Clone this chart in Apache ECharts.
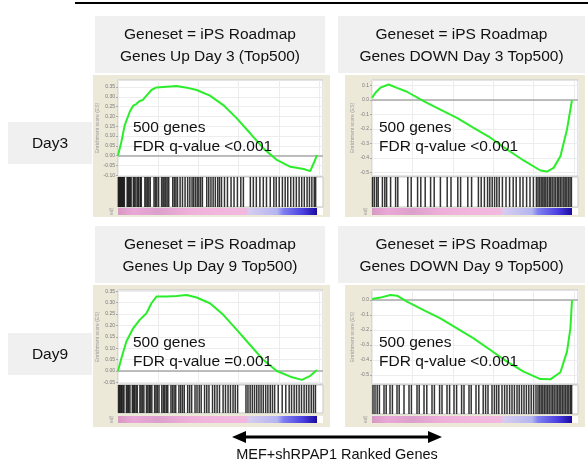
<!DOCTYPE html>
<html><head><meta charset="utf-8">
<script src="https://cdn.jsdelivr.net/npm/echarts@6/dist/echarts.min.js"></script>
<style>html,body{margin:0;padding:0;background:#fff}#c{width:588px;height:464px}</style>
</head><body><div id="c"></div>
<script>
// ---- data (x = position in ranked list, % ; y = enrichment score) ----
const up3Rank = [0,1.7,3.4,5.9,7.6,9.0,10.9,12.5,14.3,16.8,19.3,24.4,29.4,34.5,39.5,46.2,52.9,59.7,66.4,73.1,79.8,86.6,93.3,96.6,98.3,100];
const up3ES   = [0,0.071,0.156,0.224,0.255,0.262,0.279,0.284,0.306,0.335,0.348,0.352,0.355,0.347,0.335,0.306,0.258,0.19,0.114,0.037,-0.022,-0.057,-0.068,-0.079,-0.039,0.003];
const dn3Rank = [0,1.7,4.2,8.3,12.5,17.5,25.8,34.2,42.5,50.8,59.2,67.5,75.8,84.2,87.5,90.8,94.2,97.5,100];
const dn3ES   = [0.015,0.05,0.085,0.107,0.084,0.057,-0.008,-0.066,-0.123,-0.192,-0.26,-0.341,-0.417,-0.486,-0.493,-0.468,-0.388,-0.203,0.0];
const up9Rank = [0,1.7,4.2,7.6,10.9,14.3,16.8,19.3,24.4,29.4,34.5,39.5,46.2,52.9,59.7,66.4,73.1,79.8,86.6,92.4,96.6,100];
const up9ES   = [0,0.056,0.129,0.187,0.224,0.253,0.297,0.326,0.326,0.329,0.333,0.322,0.297,0.246,0.18,0.114,0.048,0.0,-0.025,-0.039,-0.021,0.004];
const dn9Rank = [0,4.2,9.2,12.5,17.5,25.8,34.2,42.5,50.8,59.2,67.5,75.8,84.2,89.2,94.2,97.5,99.2,100];
const dn9ES   = [0.007,0.016,0.033,0.029,-0.011,-0.067,-0.122,-0.189,-0.256,-0.333,-0.411,-0.478,-0.527,-0.529,-0.482,-0.344,-0.189,0.0];

// gene-set hit positions in the ranked list (%)
const up3Hits = [0.2,0.7,1.2,1.7,2.2,2.7,3.2, 4.6,5.1,5.6,6.1,6.6, 7.7,8.3,9.0,9.8,10.4,11.2,11.7, 13.5,14.1,14.8,15.5,16.2, 18.1,18.8,19.5,20.4, 21.9,22.6,23.2,24.0,24.7,25.5, 27.5,28.3,29.1,29.9, 31.2,32.4,33.7,35.0,36.1, 37.2,38.0,38.9,39.8,40.6,41.5,42.4, 44.6,45.6,46.7,47.8,48.9,50.1,51.0, 52.0,53.5,55.0,56.8,58.3,60.0,61.7,63.0, 66.5,68.0,69.5,71.3,73.0,74.6,76.5,78.3,79.5, 81.0,82.6,84.0,85.3,86.8,88.2,89.6,91.0,92.3,93.6,95.0,96.2,97.4,98.6,99.3];
const dn3Hits = [0.3,1.2,2.3,3.1, 5.2,6.4,7.3, 9.3, 11.8,12.9, 17.9,19.6, 22.8,24.4, 26.6, 29.3,31.1, 34.2, 37.6,39.5, 42.9,44.3, 47.9,49.8, 53.2,54.6,56.2, 57.8,58.9,60.1,61.3,62.4,63.6, 65.2,67.0,68.8,70.6,72.1,74.0,75.5,77.3,79.0,80.7,82.2, 83.0,83.8,84.6,85.4,86.1,86.9,87.7,88.6,89.3,90.1,91.0,91.8,92.7,93.4,94.2,95.0,95.9,96.6,97.4,98.2,99.0,99.7];
const up9Hits = [0.3,0.8,1.4,1.9,2.5,3.0, 4.2,4.8,5.4,6.0, 7.2,7.8,8.4,9.1,9.7, 11.0,11.6,12.3,13.0, 14.3,15.0,15.7,16.3,17.0, 18.4,19.1,19.8,20.6, 22.0,22.8,23.5,24.3,25.0, 26.6,27.4,28.2,29.0, 30.6,31.5,32.4,33.3, 35.0,36.0,37.0, 38.7,39.7,40.8,41.8, 43.5,44.6,45.7, 47.5,48.6,49.8,51.0, 52.8,54.0,55.3,56.5,57.8,58.9,60.1, 64.3,65.3,66.4,67.5,68.6,69.7,70.8,71.9,73.0,74.2,75.3,76.5,77.6,78.7, 80.5,82.5,84.3, 86.0,87.2,88.5,89.7,91.0,92.2,93.5,94.7,95.9,97.1,98.2,99.2];
const dn9Hits = [0.5,1.5,2.6,3.7, 6.0,7.1, 9.0,10.2, 12.5,13.6, 16.0, 18.5,19.7, 22.5,23.6, 26.0,27.4, 30.0,31.2, 33.8,35.0, 37.5,38.8, 41.0,42.3, 44.8,46.0, 48.5,49.6, 52.0,53.4, 55.6,56.8,58.0, 60.0,61.2,62.3,63.4, 65.0,66.3,67.5,68.8,70.0,71.2,72.5,73.6,74.8,76.0,77.2,78.4,79.6,80.8,82.0, 83.0,83.8,84.6,85.4,86.2,87.0,87.8,88.6,89.5,90.3,91.1,92.0,92.8,93.6,94.4,95.2,96.0,96.8,97.6,98.4,99.2,99.8];

// y tick labels
const up3Ticks = [-0.10,-0.05,0.00,0.05,0.10,0.15,0.20,0.25,0.30,0.35];
const dn3Ticks = [-0.5,-0.4,-0.3,-0.2,-0.1,0.0,0.1];
const up9Ticks = [-0.05,0.00,0.05,0.10,0.15,0.20,0.25,0.30,0.35];
const dn9Ticks = [-0.5,-0.4,-0.3,-0.2,-0.1,0.0];

const titles = [
  'Geneset = iPS Roadmap\nGenes Up Day 3 (Top500)',
  'Geneset = iPS Roadmap\nGenes DOWN Day 3 Top500)',
  'Geneset = iPS Roadmap\nGenes Up Day 9 Top500)',
  'Geneset = iPS Roadmap\nGenes DOWN Day 9 Top500)'
];
const geneCounts = ['500 genes','500 genes','500 genes','500 genes'];
const fdrTexts = ['FDR q-value <0.001','FDR q-value <0.001','FDR q-value =0.001','FDR q-value <0.001'];
const dayLabels = ['Day3','Day9'];
const xAxisLabel = 'MEF+shRPAP1 Ranked Genes';

// ---- layout ----
const FONT = 'Liberation Sans, Arial, sans-serif';
const panels = [
  {rank:up3Rank, es:up3ES, hits:up3Hits, ticks:up3Ticks, dec:2, ymin:-0.104, ymax:0.386,
   plot:[118,80,205,96], hit:[118,177,205,30], bar:[118,208,205,7], frame:[93,75,237,142], txt:[133,128], box:[95,16,230,57]},
  {rank:dn3Rank, es:dn3ES, hits:dn3Hits, ticks:dn3Ticks, dec:1, ymin:-0.524, ymax:0.138,
   plot:[372,80,206,96], hit:[372,177,206,30], bar:[372,208,206,7], frame:[345,75,240,142], txt:[379,128], box:[338,16,247,57]},
  {rank:up9Rank, es:up9ES, hits:up9Hits, ticks:up9Ticks, dec:2, ymin:-0.057, ymax:0.355,
   plot:[118,290,205,94], hit:[118,385,205,28], bar:[118,416,205,7], frame:[93,285,237,142], txt:[133,343], box:[95,226,230,57]},
  {rank:dn9Rank, es:dn9ES, hits:dn9Hits, ticks:dn9Ticks, dec:1, ymin:-0.56, ymax:0.0667,
   plot:[372,290,206,94], hit:[372,385,206,29], bar:[372,416,206,7], frame:[345,285,240,142], txt:[379,343], box:[338,226,247,57]}
];
const XMAX = 103;

const grid = [], xAxis = [], yAxis = [], series = [], graphic = [];
const g4 = r => ({left:r[0], top:r[1], width:r[2], height:r[3]});

graphic.push({type:'line', shape:{x1:75,y1:3,x2:588,y2:3}, style:{stroke:'#000', lineWidth:2}, z:100});

panels.forEach((p, i) => {
  const gi = i*3;
  graphic.push({type:'rect', shape:{x:p.frame[0], y:p.frame[1], width:p.frame[2], height:p.frame[3]}, style:{fill:'#ece9d9'}, z:-10});
  graphic.push({type:'rect', shape:{x:p.box[0], y:p.box[1], width:p.box[2], height:p.box[3]}, style:{fill:'#f0f0f0'}, z:-10});
  graphic.push({type:'text', x:p.box[0]+p.box[2]/2, y:p.box[1]+p.box[3]/2+1, style:{text:titles[i], font:'15.5px '+FONT, fill:'#111', align:'center', verticalAlign:'middle', lineHeight:22}, z:100});
  graphic.push({type:'text', x:p.txt[0], y:p.txt[1], style:{text:geneCounts[i], font:'15.5px '+FONT, fill:'#111', verticalAlign:'middle'}, z:100});
  graphic.push({type:'text', x:p.txt[0], y:p.txt[1]+19, style:{text:fdrTexts[i], font:'15.5px '+FONT, fill:'#111', verticalAlign:'middle'}, z:100});

  grid.push(Object.assign(g4(p.plot), {show:true, backgroundColor:'#fff', borderColor:'#c8c8c8', borderWidth:1}));
  grid.push(Object.assign(g4(p.hit), {show:true, backgroundColor:'#fff', borderColor:'#c8c8c8', borderWidth:1}));
  grid.push(Object.assign(g4(p.bar), {show:true, backgroundColor:'#fff', borderWidth:0}));

  for (let k=0;k<3;k++) {
    xAxis.push({gridIndex:gi+k, type:'value', min:0, max:XMAX, interval:20.2,
      axisLine:{show:false}, axisTick:{show:false}, axisLabel:{show:false},
      splitLine:{show:k===0, lineStyle:{color:'#ececec', width:1}}});
  }
  yAxis.push({gridIndex:gi, type:'value', min:p.ymin, max:p.ymax,
    axisLine:{show:false},
    axisTick:{show:true, customValues:p.ticks, length:2, lineStyle:{color:'#aaa'}},
    axisLabel:{show:true, customValues:p.ticks, formatter:v=>v.toFixed(p.dec), fontSize:5, color:'#777', margin:3, fontFamily:FONT},
    splitLine:{show:false},
    name:'Enrichment score (ES)', nameLocation:'middle', nameRotate:90, nameGap:17,
    nameTextStyle:{fontSize:5, color:'#999', fontFamily:FONT}});
  yAxis.push({gridIndex:gi+1, type:'value', min:0, max:1, axisLine:{show:false}, axisTick:{show:false}, axisLabel:{show:false}, splitLine:{show:false}});
  yAxis.push({gridIndex:gi+2, type:'value', min:0, max:1, axisLine:{show:false}, axisTick:{show:false}, axisLabel:{show:false}, splitLine:{show:false},
    name:'ed)', nameLocation:'middle', nameRotate:90, nameGap:4, nameTextStyle:{fontSize:5, color:'#999'}});

  series.push({type:'line', xAxisIndex:gi, yAxisIndex:gi, data:p.rank.map((x,j)=>[x,p.es[j]]),
    showSymbol:false, clip:false, lineStyle:{color:'#2bee2b', width:2}, z:5,
    markLine:{silent:true, symbol:'none', label:{show:false}, animation:false,
      data:[...p.ticks.map(v=>({yAxis:v, lineStyle:{color:'#ededed', width:1, type:'solid'}})),
            {yAxis:0, lineStyle:{color:'#a8a8a8', width:1.5, type:'solid'}}]}});
  series.push({type:'scatter', xAxisIndex:gi+1, yAxisIndex:gi+1, data:p.hits.map(h=>[h,0.5]),
    symbol:'rect', symbolSize:[1.5, p.hit[3]], itemStyle:{color:'#000'}, silent:true});
  series.push({type:'custom', xAxisIndex:gi+2, yAxisIndex:gi+2, data:[[0,100]], silent:true,
    renderItem:(params, api) => {
      const a = api.coord([api.value(0), 1]);
      const b = api.coord([api.value(1), 0]);
      return {type:'rect', shape:{x:a[0], y:a[1], width:b[0]-a[0], height:b[1]-a[1]},
        style:{fill:new echarts.graphic.LinearGradient(0,0,1,0,[
          {offset:0,color:'#d898c4'},{offset:0.08,color:'#eaa8d6'},{offset:0.2,color:'#dca0cc'},
          {offset:0.35,color:'#eeb0da'},{offset:0.5,color:'#f2b6de'},{offset:0.64,color:'#f2b8de'},
          {offset:0.66,color:'#d6ccf0'},{offset:0.8,color:'#b4b4f0'},{offset:0.83,color:'#8080f0'},
          {offset:0.93,color:'#4a3ee0'},{offset:1,color:'#1a0aa0'}])}};
    }});
});

[[8,122],[8,333]].forEach((pos, i) => {
  graphic.push({type:'rect', shape:{x:pos[0], y:pos[1], width:84, height:42}, style:{fill:'#f0f0f0'}, z:-10});
  graphic.push({type:'text', x:pos[0]+42, y:pos[1]+22, style:{text:dayLabels[i], font:'15.5px '+FONT, fill:'#111', align:'center', verticalAlign:'middle'}, z:100});
});

graphic.push({type:'line', shape:{x1:244,y1:437,x2:430,y2:437}, style:{stroke:'#000', lineWidth:3}, z:100});
graphic.push({type:'polygon', shape:{points:[[232,437],[246,431],[246,443]]}, style:{fill:'#000'}, z:100});
graphic.push({type:'polygon', shape:{points:[[442,437],[428,431],[428,443]]}, style:{fill:'#000'}, z:100});
graphic.push({type:'text', x:337, y:455, style:{text:xAxisLabel, font:'14.5px '+FONT, fill:'#111', align:'center', verticalAlign:'middle'}, z:100});

const chart = echarts.init(document.getElementById('c'), null, {renderer:'canvas', width:588, height:464});
chart.setOption({animation:false, backgroundColor:'#fff', grid, xAxis, yAxis, series, graphic});
</script>
</body></html>
